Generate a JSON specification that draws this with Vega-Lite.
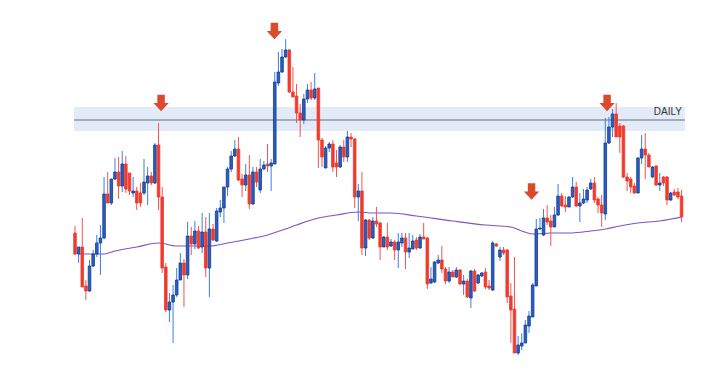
{
  "$schema": "https://vega.github.io/schema/vega-lite/v6.json",
  "autosize": {"type": "none"},
  "width": 725,
  "height": 384,
  "padding": 0,
  "background": "white",
  "config": {"view": {"stroke": null}},
  "datasets": {
    "candles": [
      {"i":1,"o":167,"h":174,"l":145,"c":146},{"i":2,"o":146,"h":153,"l":137,"c":153},{"i":3,"o":153,"h":182,"l":113,"c":113},{"i":4,"o":114,"h":120,"l":100,"c":109},{"i":5,"o":109,"h":140,"l":108,"c":134},
      {"i":6,"o":134,"h":150,"l":133,"c":146},{"i":7,"o":146,"h":165,"l":143,"c":157},{"i":8,"o":157,"h":175,"l":125,"c":162},{"i":9,"o":162,"h":223,"l":161,"c":206},{"i":10,"o":206,"h":228,"l":197,"c":197},
      {"i":11,"o":197,"h":221,"l":195,"c":221},{"i":12,"o":221,"h":242,"l":220,"c":228},{"i":13,"o":228,"h":243,"l":201,"c":214},{"i":14,"o":214,"h":249,"l":208,"c":236},{"i":15,"o":236,"h":244,"l":207,"c":211},
      {"i":16,"o":227,"h":227,"l":205,"c":209},{"i":17,"o":207,"h":223,"l":203,"c":209},{"i":18,"o":209,"h":213,"l":190,"c":197},{"i":19,"o":207,"h":217,"l":193,"c":197},{"i":20,"o":207,"h":241,"l":205,"c":218},
      {"i":21,"o":217,"h":233,"l":195,"c":224},{"i":22,"o":224,"h":228,"l":215,"c":217},{"i":23,"o":217,"h":257,"l":216,"c":255},{"i":24,"o":255,"h":277,"l":190,"c":203},{"i":25,"o":203,"h":213,"l":127,"c":132},
      {"i":26,"o":133,"h":137,"l":88,"c":90},{"i":27,"o":90,"h":107,"l":78,"c":98},{"i":28,"o":98,"h":115,"l":57,"c":105},{"i":29,"o":105,"h":132,"l":103,"c":120},{"i":30,"o":120,"h":147,"l":120,"c":137},
      {"i":31,"o":137,"h":141,"l":93,"c":125},{"i":32,"o":125,"h":178,"l":121,"c":164},{"i":33,"o":164,"h":173,"l":145,"c":156},{"i":34,"o":156,"h":179,"l":151,"c":169},{"i":35,"o":169,"h":174,"l":151,"c":152},
      {"i":36,"o":153,"h":187,"l":147,"c":168},{"i":37,"o":168,"h":183,"l":123,"c":132},{"i":38,"o":132,"h":187,"l":103,"c":171},{"i":39,"o":171,"h":176,"l":159,"c":160},{"i":40,"o":159,"h":192,"l":158,"c":189},
      {"i":41,"o":188,"h":200,"l":183,"c":192},{"i":42,"o":192,"h":213,"l":177,"c":213},{"i":43,"o":213,"h":233,"l":204,"c":231},{"i":44,"o":231,"h":249,"l":228,"c":244},{"i":45,"o":244,"h":260,"l":243,"c":251},
      {"i":46,"o":251,"h":263,"l":219,"c":220},{"i":47,"o":221,"h":226,"l":203,"c":215},{"i":48,"o":215,"h":236,"l":209,"c":225},{"i":49,"o":225,"h":245,"l":191,"c":196},{"i":50,"o":196,"h":233,"l":195,"c":228},
      {"i":51,"o":228,"h":233,"l":213,"c":218},{"i":52,"o":210,"h":241,"l":207,"c":231},{"i":53,"o":231,"h":239,"l":230,"c":235},{"i":54,"o":236,"h":256,"l":228,"c":234},{"i":55,"o":234,"h":241,"l":209,"c":237},
      {"i":56,"o":236,"h":328,"l":236,"c":318},{"i":57,"o":317,"h":348,"l":314,"c":328},{"i":58,"o":328,"h":351,"l":327,"c":343},{"i":59,"o":343,"h":361,"l":342,"c":350},{"i":60,"o":350,"h":351,"l":307,"c":308},
      {"i":61,"o":308,"h":333,"l":303,"c":303},{"i":62,"o":304,"h":316,"l":277,"c":287},{"i":63,"o":287,"h":296,"l":263,"c":280},{"i":64,"o":280,"h":306,"l":276,"c":301},{"i":65,"o":301,"h":316,"l":297,"c":310},
      {"i":66,"o":310,"h":318,"l":300,"c":302},{"i":67,"o":302,"h":327,"l":300,"c":311},{"i":68,"o":312,"h":312,"l":232,"c":260},{"i":69,"o":260,"h":262,"l":233,"c":243},{"i":70,"o":232,"h":254,"l":232,"c":252},
      {"i":71,"o":252,"h":258,"l":248,"c":256},{"i":72,"o":256,"h":260,"l":228,"c":233},{"i":73,"o":237,"h":250,"l":223,"c":233},{"i":74,"o":233,"h":255,"l":232,"c":253},{"i":75,"o":253,"h":260,"l":238,"c":243},
      {"i":76,"o":243,"h":269,"l":238,"c":263},{"i":77,"o":263,"h":267,"l":253,"c":261},{"i":78,"o":261,"h":262,"l":192,"c":203},{"i":79,"o":203,"h":216,"l":179,"c":209},{"i":80,"o":209,"h":228,"l":145,"c":152},
      {"i":81,"o":152,"h":181,"l":144,"c":180},{"i":82,"o":180,"h":181,"l":160,"c":162},{"i":83,"o":162,"h":183,"l":161,"c":179},{"i":84,"o":179,"h":193,"l":173,"c":176},{"i":85,"o":177,"h":178,"l":140,"c":153},
      {"i":86,"o":153,"h":164,"l":153,"c":163},{"i":87,"o":163,"h":177,"l":150,"c":153},{"i":88,"o":154,"h":161,"l":153,"c":158},{"i":89,"o":158,"h":160,"l":140,"c":150},{"i":90,"o":150,"h":167,"l":132,"c":158},
      {"i":91,"o":157,"h":167,"l":153,"c":162},{"i":92,"o":162,"h":167,"l":131,"c":148},{"i":93,"o":148,"h":167,"l":142,"c":152},{"i":94,"o":151,"h":165,"l":151,"c":159},{"i":95,"o":160,"h":163,"l":150,"c":152},
      {"i":96,"o":152,"h":166,"l":151,"c":163},{"i":97,"o":163,"h":177,"l":161,"c":161},{"i":98,"o":162,"h":163,"l":111,"c":116},{"i":99,"o":117,"h":133,"l":116,"c":121},{"i":100,"o":118,"h":139,"l":117,"c":138},
      {"i":101,"o":137,"h":145,"l":136,"c":140},{"i":102,"o":140,"h":154,"l":127,"c":131},{"i":103,"o":131,"h":133,"l":116,"c":119},{"i":104,"o":119,"h":133,"l":117,"c":128},{"i":105,"o":128,"h":130,"l":123,"c":123},
      {"i":106,"o":123,"h":133,"l":122,"c":130},{"i":107,"o":130,"h":131,"l":115,"c":116},{"i":108,"o":116,"h":125,"l":105,"c":119},{"i":109,"o":119,"h":121,"l":102,"c":103},{"i":110,"o":102,"h":130,"l":92,"c":129},
      {"i":111,"o":129,"h":131,"l":108,"c":109},{"i":112,"o":117,"h":126,"l":116,"c":125},{"i":113,"o":124,"h":128,"l":123,"c":127},{"i":114,"o":128,"h":132,"l":111,"c":113},{"i":115,"o":114,"h":120,"l":110,"c":112},
      {"i":116,"o":110,"h":159,"l":109,"c":157},{"i":117,"o":156,"h":157,"l":153,"c":154},{"i":118,"o":143,"h":153,"l":139,"c":150},{"i":119,"o":150,"h":153,"l":145,"c":147},{"i":120,"o":150,"h":151,"l":97,"c":103},
      {"i":121,"o":104,"h":117,"l":57,"c":90},{"i":122,"o":91,"h":143,"l":47,"c":47},{"i":123,"o":47,"h":64,"l":45,"c":55},{"i":124,"o":54,"h":67,"l":50,"c":57},{"i":125,"o":57,"h":80,"l":57,"c":75},
      {"i":126,"o":74,"h":89,"l":67,"c":84},{"i":127,"o":83,"h":117,"l":83,"c":115},{"i":128,"o":114,"h":181,"l":114,"c":171},{"i":129,"o":171,"h":182,"l":170,"c":172},{"i":130,"o":165,"h":191,"l":164,"c":182},
      {"i":131,"o":182,"h":195,"l":175,"c":178},{"i":132,"o":179,"h":185,"l":154,"c":173},{"i":133,"o":173,"h":193,"l":173,"c":185},{"i":134,"o":185,"h":216,"l":184,"c":204},{"i":135,"o":204,"h":207,"l":193,"c":194},
      {"i":136,"o":195,"h":204,"l":188,"c":193},{"i":137,"o":193,"h":204,"l":193,"c":203},{"i":138,"o":203,"h":223,"l":202,"c":213},{"i":139,"o":213,"h":218,"l":193,"c":194},{"i":140,"o":194,"h":207,"l":178,"c":197},
      {"i":141,"o":197,"h":211,"l":196,"c":201},{"i":142,"o":200,"h":213,"l":197,"c":210},{"i":143,"o":211,"h":221,"l":210,"c":217},{"i":144,"o":217,"h":223,"l":197,"c":200},{"i":145,"o":201,"h":203,"l":187,"c":195},
      {"i":146,"o":195,"h":205,"l":173,"c":187},{"i":147,"o":186,"h":282,"l":180,"c":257},{"i":148,"o":257,"h":283,"l":256,"c":273},{"i":149,"o":273,"h":291,"l":263,"c":286},{"i":150,"o":286,"h":297,"l":263,"c":263},
      {"i":151,"o":274,"h":277,"l":247,"c":263},{"i":152,"o":274,"h":275,"l":222,"c":223},{"i":153,"o":223,"h":227,"l":209,"c":219},{"i":154,"o":221,"h":223,"l":207,"c":213},{"i":155,"o":214,"h":217,"l":206,"c":207},
      {"i":156,"o":207,"h":243,"l":207,"c":242},{"i":157,"o":242,"h":265,"l":236,"c":251},{"i":158,"o":251,"h":267,"l":221,"c":245},{"i":159,"o":245,"h":247,"l":233,"c":233},{"i":160,"o":223,"h":234,"l":222,"c":233},
      {"i":161,"o":234,"h":235,"l":214,"c":215},{"i":162,"o":215,"h":227,"l":209,"c":217},{"i":163,"o":223,"h":224,"l":214,"c":217},{"i":164,"o":223,"h":224,"l":195,"c":200},{"i":165,"o":200,"h":208,"l":199,"c":207},
      {"i":166,"o":208,"h":211,"l":204,"c":205},{"i":167,"o":208,"h":212,"l":201,"c":203},{"i":168,"o":204,"h":210,"l":178,"c":183}
    ],
    "ma": [
      {"i":2,"v":146},{"i":9,"v":146},{"i":12,"v":149},{"i":18,"v":153},{"i":24,"v":157},{"i":29,"v":154},{"i":38,"v":154},{"i":43,"v":157},{"i":49,"v":161},{"i":54,"v":165},{"i":59,"v":171},{"i":62,"v":175},{"i":68,"v":182},{"i":73,"v":185},{"i":79,"v":188},{"i":83,"v":187},{"i":88,"v":187},{"i":95,"v":184},{"i":105,"v":179},{"i":114,"v":175},{"i":121,"v":173},{"i":124,"v":169},{"i":127,"v":166},{"i":132,"v":167},{"i":137,"v":167},{"i":143,"v":169},{"i":147,"v":171},{"i":151,"v":174},{"i":156,"v":177},{"i":162,"v":179},{"i":168,"v":183}
    ],
    "arrows": [
      {"i":24.7,"v":297},{"i":55.9,"v":369},{"i":126.7,"v":208.5},{"i":147.5,"v":297}
    ],
    "zone": [
      {"x1":0.72,"x2":168.9,"lo":269,"hi":293,"level":280,"label":"DAILY","lx":168.1,"ly":288.5}
    ]
  },
  "encoding": {
    "x": {"type": "quantitative", "scale": {"domain": [-19.65, 179.96], "nice": false, "zero": false, "padding": 0}, "axis": null}
  },
  "layer": [
    {
      "data": {"name": "zone"},
      "mark": {"type": "rect", "color": "#e3eaf8"},
      "encoding": {
        "x": {"field": "x1", "type": "quantitative"},
        "x2": {"field": "x2"},
        "y": {"field": "lo", "type": "quantitative", "scale": {"domain": [16, 400], "nice": false, "zero": false, "padding": 0}, "axis": null},
        "y2": {"field": "hi"}
      }
    },
    {
      "data": {"name": "zone"},
      "mark": {"type": "rule", "color": "#8f97a3", "strokeWidth": 1.5},
      "encoding": {
        "x": {"field": "x1", "type": "quantitative"},
        "x2": {"field": "x2"},
        "y": {"field": "level", "type": "quantitative"}
      }
    },
    {
      "data": {"name": "zone"},
      "mark": {"type": "text", "align": "right", "baseline": "middle", "fontSize": 10, "font": "Liberation Sans", "color": "#333333"},
      "encoding": {
        "x": {"field": "lx", "type": "quantitative"},
        "y": {"field": "ly", "type": "quantitative"},
        "text": {"field": "label"}
      }
    },
    {
      "data": {"name": "ma"},
      "mark": {"type": "line", "color": "#7d55c4", "strokeWidth": 1.1, "interpolate": "monotone"},
      "encoding": {
        "x": {"field": "i", "type": "quantitative"},
        "y": {"field": "v", "type": "quantitative"}
      }
    },
    {
      "data": {"name": "candles"},
      "mark": {"type": "rule", "strokeWidth": 1},
      "encoding": {
        "x": {"field": "i", "type": "quantitative"},
        "y": {"field": "l", "type": "quantitative"},
        "y2": {"field": "h"},
        "color": {"condition": {"test": "datum.c >= datum.o", "value": "#3a7fe6"}, "value": "#f4554a"}
      }
    },
    {
      "data": {"name": "candles"},
      "mark": {"type": "bar", "width": 2.6, "strokeWidth": 0.8},
      "encoding": {
        "x": {"field": "i", "type": "quantitative"},
        "y": {"field": "o", "type": "quantitative"},
        "y2": {"field": "c"},
        "fill": {"condition": {"test": "datum.c >= datum.o", "value": "#2a5fc4"}, "value": "#f03a2e"},
        "stroke": {"condition": {"test": "datum.c >= datum.o", "value": "#123a8c"}, "value": "#f03a2e"}
      }
    },
    {
      "data": {"name": "arrows"},
      "mark": {"type": "point", "filled": true, "shape": "M-0.45,-1 L0.45,-1 L0.45,0 L0.92,0 L0,1 L-0.92,0 L-0.45,0 Z", "size": 276, "color": "#db4a2d", "opacity": 1},
      "encoding": {
        "x": {"field": "i", "type": "quantitative"},
        "y": {"field": "v", "type": "quantitative"}
      }
    }
  ]
}
